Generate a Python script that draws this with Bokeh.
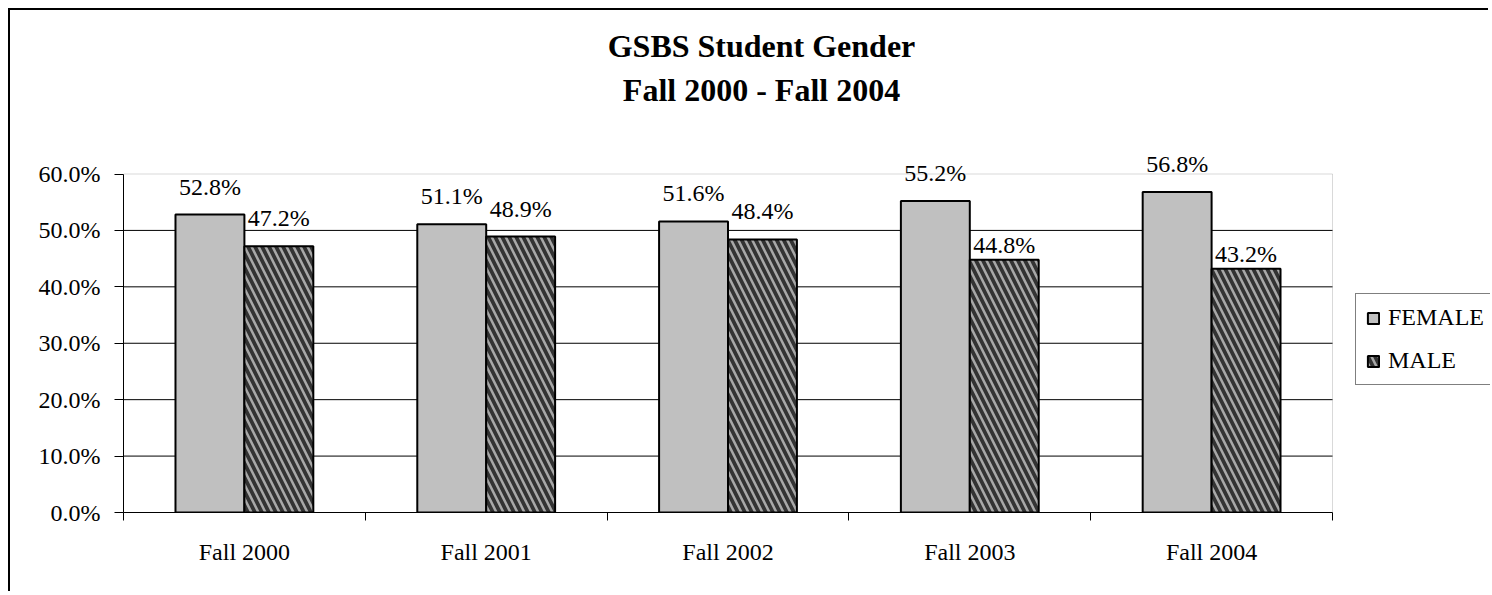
import numpy as np
from bokeh.plotting import figure
from bokeh.models import (ColumnDataSource, FixedTicker, PrintfTickFormatter, Legend,
                          LegendItem, LabelSet, Range1d, BoxAnnotation)
from bokeh.core.properties import value
from bokeh.embed import file_html
from bokeh.resources import INLINE

# ---- data ----
categories = ["Fall 2000", "Fall 2001", "Fall 2002", "Fall 2003", "Fall 2004"]
female = [52.8, 51.1, 51.6, 55.2, 56.8]
male = [47.2, 48.9, 48.4, 44.8, 43.2]
series_names = ["FEMALE", "MALE"]
y_ticks = [0, 10, 20, 30, 40, 50, 60]
title_lines = ["GSBS Student Gender", "Fall 2000 - Fall 2004"]

# ---- style / layout (pixels inside the figure) ----
FONT = "Liberation Serif"
BAR_W = 0.285
female_label_rise = [28, 28, 28, 28, 28]
male_label_rise = [28, 28, 28, 15, 15]
W, H = 1480, 583
AREA_L, AREA_R, AREA_T, AREA_B = 113, 1322, 163.5, 502   # visible plot area
TITLE_CX = 751
TITLE_BASELINES = [35, 79]
LEGEND_POS = (1232, 127)

n = len(categories)
PXX = (AREA_R - AREA_L) / n
PXY = (AREA_B - AREA_T) / (y_ticks[-1] - y_ticks[0])
x0 = -0.5
x_end = x0 + (W - AREA_L) / PXX
y_end = y_ticks[0] + AREA_B / PXY

idx = np.arange(n)
src = ColumnDataSource(dict(
    xf=idx - BAR_W / 2, xm=idx + BAR_W / 2,
    female=female, male=male,
    fl=[f"{v:.1f}%" for v in female], ml=[f"{v:.1f}%" for v in male],
    fr=female_label_rise, mr=male_label_rise,
))

p = figure(width=W, height=H, output_backend="svg", toolbar_location=None, title=None,
           x_range=Range1d(x0, x_end), y_range=Range1d(y_ticks[0], y_end),
           min_border_left=AREA_L, min_border_right=0, min_border_top=0,
           min_border_bottom=H - AREA_B)
p.styles = {"margin-left": "8px", "margin-top": "8px",
            "border-left": "2px solid black", "border-top": "2px solid black"}
p.background_fill_color = "white"
p.border_fill_color = "white"
p.outline_line_color = None
p.xgrid.visible = False
p.ygrid.visible = False

# plot-area border and gridlines
area = BoxAnnotation(left=x0, right=x0 + n, bottom=y_ticks[0], top=y_ticks[-1],
                     fill_alpha=0, line_color="#808080", line_width=1, level="underlay")
p.add_layout(area)
gy = y_ticks[1:-1]
p.segment(x0=[x0] * len(gy), x1=[x0 + n] * len(gy), y0=gy, y1=gy,
          line_color="black", line_width=1)

rf = p.vbar(x="xf", top="female", bottom=0, width=BAR_W, source=src,
            fill_color="#c0c0c0", line_color="black", line_width=2)
rm = p.vbar(x="xm", top="male", bottom=0, width=BAR_W, source=src,
            fill_color="#333333", hatch_pattern="left_diagonal_line", hatch_color="#a8a8a8",
            hatch_scale=14, hatch_weight=2.5, line_color="black", line_width=2)

# data labels
for xcol, ycol, tcol, ocol in [("xf", "female", "fl", "fr"), ("xm", "male", "ml", "mr")]:
    ls = LabelSet(x=xcol, y=ycol, text=tcol, y_offset=ocol, source=src,
                  text_align="center", text_baseline="middle",
                  text_font=value(FONT), text_font_size="24px", text_color="black")
    p.add_layout(ls)

# titles (drawn as text inside the canvas frame)
tx = x0 + (TITLE_CX - AREA_L) / PXX
ty = [(AREA_B - b) / PXY for b in TITLE_BASELINES]
p.text(x=[tx, tx], y=ty, text=title_lines, text_align="center", text_baseline="alphabetic",
       text_font=value(FONT), text_font_size="32px", text_font_style="bold", text_color="black")

# x axis
xa = p.xaxis[0]
xa.bounds = (x0, x0 + n)
xa.ticker = FixedTicker(ticks=list(idx), minor_ticks=[x0 + i for i in range(n + 1)])
xa.major_label_overrides = {int(i): c for i, c in zip(idx, categories)}
xa.major_tick_line_color = None
xa.major_tick_out = 0
xa.major_tick_in = 0
xa.minor_tick_out = 8
xa.minor_tick_in = 0
xa.minor_tick_line_color = "black"
xa.axis_line_color = "black"
xa.major_label_standoff = 18
xa.major_label_text_font = FONT
xa.major_label_text_font_size = "24px"
xa.major_label_text_color = "black"

# y axis
ya = p.yaxis[0]
ya.bounds = (y_ticks[0], y_ticks[-1])
ya.ticker = FixedTicker(ticks=y_ticks)
ya.formatter = PrintfTickFormatter(format="%.1f%%")
ya.major_tick_out = 9
ya.major_tick_in = 0
ya.major_tick_line_color = "black"
ya.minor_tick_line_color = None
ya.axis_line_color = "black"
ya.major_label_standoff = 14
ya.major_label_text_font = FONT
ya.major_label_text_font_size = "24px"
ya.major_label_text_color = "black"

# legend
legend = Legend(items=[LegendItem(label=series_names[0], renderers=[rf]),
                       LegendItem(label=series_names[1], renderers=[rm])],
                location=LEGEND_POS)
legend.border_line_color = "black"
legend.border_line_width = 1
legend.background_fill_color = "white"
legend.background_fill_alpha = 1
legend.label_text_font = FONT
legend.label_text_font_size = "24px"
legend.label_text_color = "black"
legend.glyph_width = 14
legend.glyph_height = 14
legend.label_height = 20
legend.padding = 10
legend.spacing = 16
legend.label_standoff = 8
legend.margin = 0
p.add_layout(legend)

open("out.html", "w").write(file_html(p, INLINE))
